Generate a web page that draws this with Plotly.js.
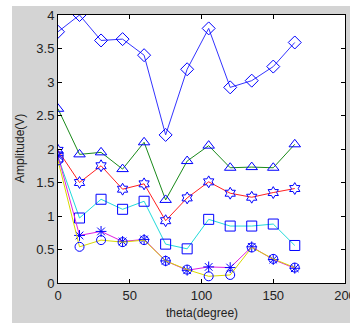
<!DOCTYPE html>
<html>
<head>
<meta charset="utf-8">
<script src="https://cdn.plot.ly/plotly-3.0.1.min.js"></script>
<style>
html,body{margin:0;padding:0;background:#ffffff;overflow:hidden;width:350px;height:323px;}
#chart{position:absolute;left:12px;top:6px;width:345px;height:320px;}
</style>
</head>
<body>
<div id="chart"></div>
<script>
var theta = [0, 15, 30, 45, 60, 75, 90, 105, 120, 135, 150, 165];
var diamondSeries  = [3.75, 4.00, 3.62, 3.64, 3.40, 2.21, 3.19, 3.80, 2.92, 3.02, 3.23, 3.59];
var triangleSeries = [2.60, 1.92, 1.95, 1.70, 2.10, 1.24, 1.82, 2.05, 1.72, 1.73, 1.72, 2.07];
var hexagramSeries = [1.98, 1.50, 1.75, 1.40, 1.48, 0.93, 1.27, 1.51, 1.34, 1.28, 1.35, 1.41];
var squareSeries   = [1.88, 0.97, 1.25, 1.10, 1.22, 0.58, 0.51, 0.95, 0.85, 0.85, 0.88, 0.56];
var starSeries     = [1.90, 0.71, 0.77, 0.62, 0.65, 0.33, 0.19, 0.24, 0.23, 0.54, 0.35, 0.22];
var circleSeries   = [1.83, 0.54, 0.64, 0.61, 0.64, 0.33, 0.20, 0.10, 0.12, 0.53, 0.36, 0.23];
var xTicks = [0, 50, 100, 150, 200];
var yTicks = [0, 0.5, 1, 1.5, 2, 2.5, 3, 3.5, 4];

function tr(y, lineColor, sym, size){
  return {x: theta, y: y, mode: 'lines+markers', type: 'scatter',
    line: {color: lineColor, width: 1},
    marker: {symbol: sym, size: size, color: '#0000ff', line: {color: '#0000ff', width: 1}},
    showlegend: false, hoverinfo: 'none'};
}
var data = [
  tr(diamondSeries, '#3333ff', 'diamond-open', 10),
  tr(triangleSeries, '#1a8a1a', 'triangle-up-open', 10),
  tr(hexagramSeries, '#ff2020', 'hexagram-open', 9),
  tr(squareSeries, '#20dada', 'square-open', 10),
  tr(starSeries, '#e020e0', 'asterisk-open', 9),
  tr(circleSeries, '#d8d800', 'circle-open', 9)
];
var fnt = {family: 'Liberation Sans, Arial, sans-serif', size: 13, color: '#222222'};
var tfnt = {family: 'Liberation Sans, Arial, sans-serif', size: 12, color: '#222222'};
var layout = {
  width: 345, height: 320,
  margin: {l: 46, r: 12, t: 9, b: 43, pad: 0},
  paper_bgcolor: '#d4d4d4', plot_bgcolor: '#ffffff',
  font: fnt,
  xaxis: {range: [0, 200], tickvals: xTicks, ticktext: xTicks.map(String), ticks: 'inside', ticklen: 4,
    tickcolor: '#000', showline: true, linecolor: '#000', linewidth: 1, mirror: 'ticks',
    showgrid: false, zeroline: false, fixedrange: true, tickfont: fnt},
  yaxis: {range: [0, 4], tickvals: yTicks, ticktext: yTicks.map(String), ticks: 'inside', ticklen: 4,
    tickcolor: '#000', showline: true, linecolor: '#000', linewidth: 1, mirror: 'ticks',
    showgrid: false, zeroline: false, fixedrange: true, tickfont: fnt},
  annotations: [
    {text: 'theta(degree)', xref: 'paper', yref: 'paper', x: 0.5, y: 0, xanchor: 'center', yanchor: 'middle',
     yshift: -30, showarrow: false, font: tfnt},
    {text: 'Amplitude(V)', xref: 'paper', yref: 'paper', x: 0, y: 0.5, xanchor: 'center', yanchor: 'middle',
     xshift: -38, textangle: -90, showarrow: false, font: tfnt}
  ]
};
Plotly.newPlot('chart', data, layout, {staticPlot: true, displayModeBar: false});
</script>
</body>
</html>
